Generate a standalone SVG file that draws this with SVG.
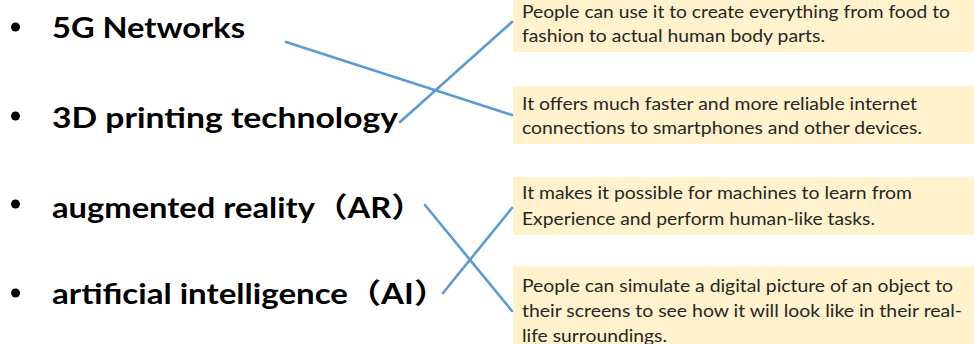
<svg xmlns="http://www.w3.org/2000/svg" width="974" height="344" viewBox="0 0 974 344">
<style>
.lbl{font-family:Lato,"Liberation Sans","Noto Sans CJK SC",sans-serif;font-weight:bold;font-size:28px;fill:#000}
.desc{font-family:Lato,"Liberation Sans",sans-serif;font-size:17px;fill:#262626}
.box{fill:#fff2cc}
.bul{fill:#000}
.conn line{stroke:#5b9bd5;stroke-width:2.6;stroke-linecap:round;fill:none}
</style>
<rect width="974" height="344" fill="#fff"/>
<g id="term-5g">
<circle class="bul" cx="15.5" cy="27" r="4.5"/>
<text class="lbl" x="52" y="38" textLength="193" lengthAdjust="spacingAndGlyphs">5G Networks</text>
</g>
<g id="term-3d">
<circle class="bul" cx="15.5" cy="116" r="4.5"/>
<text class="lbl" x="52" y="128" textLength="346" lengthAdjust="spacingAndGlyphs">3D printing technology</text>
</g>
<g id="term-ar">
<circle class="bul" cx="15.5" cy="204" r="4.5"/>
<text class="lbl" x="52" y="218" textLength="372" lengthAdjust="spacingAndGlyphs">augmented reality（AR）</text>
</g>
<g id="term-ai">
<circle class="bul" cx="15.5" cy="293" r="4.5"/>
<text class="lbl" x="52" y="304" textLength="395" lengthAdjust="spacingAndGlyphs">artificial intelligence（AI）</text>
</g>
<g id="desc-3d">
<rect class="box" x="513" y="0" width="461" height="52"/>
<text class="desc" x="522" y="18" textLength="428" lengthAdjust="spacingAndGlyphs">People can use it to create everything from food to</text>
<text class="desc" x="522" y="42" textLength="303" lengthAdjust="spacingAndGlyphs">fashion to actual human body parts.</text>
</g>
<g id="desc-5g">
<rect class="box" x="513" y="86" width="461" height="58"/>
<text class="desc" x="522" y="110" textLength="395" lengthAdjust="spacingAndGlyphs">It offers much faster and more reliable internet</text>
<text class="desc" x="522" y="134" textLength="400" lengthAdjust="spacingAndGlyphs">connections to smartphones and other devices.</text>
</g>
<g id="desc-ai">
<rect class="box" x="513" y="177" width="461" height="58"/>
<text class="desc" x="522" y="199" textLength="390" lengthAdjust="spacingAndGlyphs">It makes it possible for machines to learn from</text>
<text class="desc" x="522" y="225" textLength="353" lengthAdjust="spacingAndGlyphs">Experience and perform human-like tasks.</text>
</g>
<g id="desc-ar">
<rect class="box" x="513" y="266" width="461" height="78"/>
<text class="desc" x="522" y="292" textLength="431" lengthAdjust="spacingAndGlyphs">People can simulate a digital picture of an object to</text>
<text class="desc" x="522" y="317" textLength="440" lengthAdjust="spacingAndGlyphs">their screens to see how it will look like in their real-</text>
<text class="desc" x="522" y="342" textLength="145" lengthAdjust="spacingAndGlyphs">life surroundings.</text>
</g>
<g id="connectors" class="conn">
<line x1="286" y1="42" x2="512" y2="115"/>
<line x1="400" y1="122" x2="512" y2="22"/>
<line x1="425" y1="205" x2="512" y2="311"/>
<line x1="443" y1="293" x2="512" y2="208"/>
</g>
</svg>
